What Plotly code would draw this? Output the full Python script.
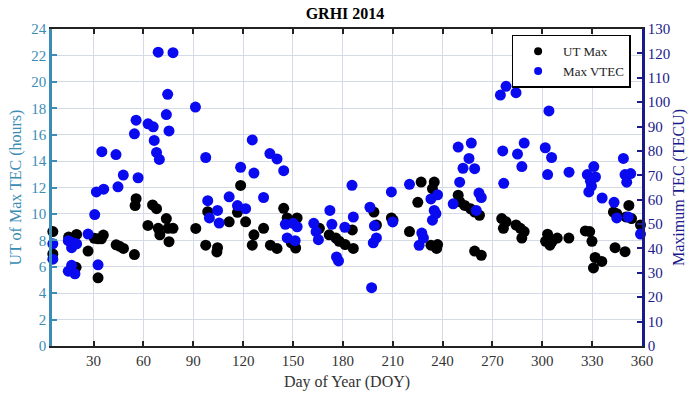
import plotly.graph_objects as go

# UT of Max TEC (hours) -- black points
ut_day = [5.5, 5.5, 15, 19.8, 19.5, 26.7, 30.5, 32.7, 34.7, 35.9, 32.7,
          43.6, 45.6, 48, 54.6, 55, 55.6,
          62.7, 65.5, 67.9, 68.9, 69.9, 73.8, 74.8, 75.4, 77.8,
          91.5,
          97.5, 98.7, 104.2, 104.6, 111.6, 116.6, 118.5, 121.5, 125.5, 126.5, 132.3, 136.4, 140.4,
          144.4, 146.5, 149, 151.6, 152.5,
          165.9, 171.8, 175.8, 177.8, 181.4, 185.7, 186.3,
          198.7, 200.2, 209.2, 210.2,
          220.1, 225.1, 227.1, 233, 233.9, 235, 236.4, 237,
          249.4, 250.3, 253.3, 256.9, 259.3, 259.3, 262.2, 263.3,
          275.6, 276.6, 278.2, 284.2, 286.8, 287.7, 289.1,
          302, 303.2, 304.6, 306, 309, 316,
          325.9, 328.5, 329.9, 330.8, 331.8, 335.8,
          342.8, 343.8, 344.8, 349.8, 350.3, 352.1, 353.7, 359.1]
ut_hours = [8.66, 6.97, 8.25, 8.45, 5.96, 7.19, 8.15, 8.12, 8.12, 8.4, 5.16,
            7.66, 7.56, 7.39, 6.92, 10.63, 11.15,
            9.13, 10.68, 10.4, 8.91, 8.42, 9.65, 8.91, 7.9, 8.91,
            8.9,
            7.63, 10.17, 7.12, 7.44, 9.4, 10.12, 12.16, 9.4, 7.63, 8.42, 8.91, 7.63, 7.39,
            10.42, 9.7, 7.8, 7.42, 9.7,
            8.91, 8.42, 8.17, 7.93, 7.68, 8.79, 7.39,
            10.14, 9.16, 9.7, 9.53,
            8.66, 10.88, 12.41, 7.63, 11.91, 12.41, 7.39, 7.68,
            11.42, 10.93, 10.64, 10.39, 10.14, 7.19, 9.9, 6.87,
            9.65, 8.91, 9.4, 9.16, 8.91, 8.17, 8.66,
            7.93, 8.47, 7.63, 7.93, 8.17, 8.17,
            8.71, 8.66, 7.93, 5.91, 6.7, 6.4,
            10.14, 7.44, 10.02, 7.14, 9.77, 10.64, 9.65, 9.16]

# Max VTEC (TECU) -- blue points
tec_day = [5.5, 5.5, 14.8, 14.8, 16.8, 16.8, 17.2, 18.8, 19.8,
           26.7, 30.7, 31.7, 32.7, 35, 36.1,
           43.5, 44.7, 47.9, 54.6, 55.6, 56.8,
           62.8, 65.9, 66.5, 67.9, 68.9, 69.6, 73.8, 74.6, 75.4, 77.8,
           91.3,
           97.5, 98.7, 99.7, 104.6, 105.6, 111.6, 116.6, 118.5, 121.5, 125.5, 126.5, 132.3, 136.1, 140.4, 144.4,
           145.4, 146.5, 150, 151.3, 152.5,
           162.5, 163.9, 165.3, 172.2, 173.4, 176.2, 177.4, 181.2,
           185.5, 186.3, 196.3, 197.3, 198.3, 199, 200.2,
           209.2, 210, 220.1, 225.9, 227.5, 228.5, 233, 233.9, 235, 236, 237,
           246.4, 249.4, 250.3, 252.3, 255.9, 257.3, 259.3, 260.3, 261.9, 263.3,
           274.8, 276.2, 276.8, 278.2, 284.2, 285.1, 287.7, 289.1,
           301.8, 303.2, 304, 305.6, 316.1,
           327.1, 328, 329, 329.6, 331, 332, 336, 343.2, 344.8,
           348.8, 349.8, 350.8, 351.7, 353.2, 359.1]
tec_val = [41.9, 35.6, 43.2, 30.7, 40.3, 33.1, 42.3, 29.6, 41.9,
           45.9, 53.9, 63.2, 33.3, 79.7, 64.3,
           78.5, 65.3, 70.1, 87, 92.6, 69,
           91.1, 89.9, 84.3, 79.4, 120.5, 76.5, 94.9, 103.2, 88.2, 120.3,
           98,
           77.3, 59.6, 52.5, 55.6, 50.4, 61.2, 57.6, 73.3, 56.3, 84.5, 70.9, 60.9, 78.9, 76.7, 71.9,
           49.9, 44.3, 50.3, 43.2, 48.9,
           50.3, 46.9, 43.6, 55.6, 49.9, 36.5, 34.9, 48.7,
           65.9, 52.9, 56.9, 23.9, 42.3, 49.3, 44.3,
           63.2, 50.9, 66.3, 41.3, 46.3, 44.3, 60.3, 51.6, 55.6, 54.3, 62,
           58.3, 81.6, 67.2, 72.9, 76.9, 83.2, 72.7, 55.6, 62.7, 60.9,
           102.9, 80, 66.7, 106.5, 103.9, 78.7, 73.6, 83.2,
           81.3, 70.3, 96.4, 77.3, 71.3,
           70.3, 63.2, 67.6, 65.6, 73.6, 69.3, 60.7, 58.9, 52.5,
           76.9, 70.3, 67.2, 52.9, 70.7, 45.9]

x_ticks = [30, 60, 90, 120, 150, 180, 210, 240, 270, 300, 330, 360]
left_ticks = list(range(0, 25, 2))
right_ticks = list(range(0, 131, 10))

LEFT_C = "#3b8db5"
RIGHT_C = "#1a1a8c"
BLUE = "#0a0af0"
FONT = "Liberation Serif"

fig = go.Figure()
fig.add_trace(go.Scatter(x=ut_day, y=ut_hours, mode="markers", name="UT Max", showlegend=False,
                         marker=dict(color="black", size=11), cliponaxis=False))
fig.add_trace(go.Scatter(x=tec_day, y=tec_val, mode="markers", name="Max VTEC", yaxis="y2",
                         showlegend=False, marker=dict(color=BLUE, size=11), cliponaxis=False))
# legend-only entries with smaller glyphs
fig.add_trace(go.Scatter(x=[None], y=[None], mode="markers", name="UT Max",
                         marker=dict(color="black", size=8)))
fig.add_trace(go.Scatter(x=[None], y=[None], mode="markers", name="Max VTEC", yaxis="y2",
                         marker=dict(color=BLUE, size=8)))

fig.update_layout(
    width=697, height=400,
    margin=dict(l=52, r=51, t=29, b=46),
    paper_bgcolor="white", plot_bgcolor="white",
    font=dict(family=FONT, size=15, color="#333"),
    title=dict(text="<b>GRHI 2014</b>", x=0.495, xanchor="center", y=0.967, yanchor="middle",
               font=dict(family=FONT, size=16, color="black")),
    xaxis=dict(range=[5, 360], tickvals=x_ticks, ticks="inside", ticklen=5, tickwidth=1.5,
               tickcolor="#222", showline=True, linecolor="#222", linewidth=2, mirror="ticks",
               showgrid=True, gridcolor="#d5dbe6", gridwidth=1, zeroline=False,
               tickfont=dict(family=FONT, size=15, color="#333"),
               title=dict(text="Day of Year (DOY)", font=dict(family=FONT, size=16, color="#333"), standoff=8)),
    yaxis=dict(range=[0, 24], tickvals=left_ticks, ticks="inside", ticklen=5, tickwidth=1.5,
               tickcolor=LEFT_C, showline=True, linecolor=LEFT_C, linewidth=2.5,
               showgrid=True, gridcolor="#d5dbe6", gridwidth=1, zeroline=False,
               tickfont=dict(family=FONT, size=15, color=LEFT_C),
               title=dict(text="UT of Max TEC (hours)", font=dict(family=FONT, size=16, color=LEFT_C), standoff=6)),
    yaxis2=dict(range=[0, 130], tickvals=right_ticks, ticks="inside", ticklen=5, tickwidth=1.5,
                tickcolor=RIGHT_C, showline=True, linecolor=RIGHT_C, linewidth=2.5,
                overlaying="y", side="right", showgrid=False, zeroline=False,
                tickfont=dict(family=FONT, size=15, color=RIGHT_C),
                title=dict(text="Maximum TEC (TECU)", font=dict(family=FONT, size=16, color=RIGHT_C), standoff=4)),
    legend=dict(x=0.779, y=0.982, xanchor="left", yanchor="top", bgcolor="white",
                bordercolor="black", borderwidth=1.5, font=dict(family=FONT, size=13, color="#222"),
                itemsizing="trace", tracegroupgap=0, itemwidth=40),
    showlegend=True,
)

fig.write_html("out.html")
